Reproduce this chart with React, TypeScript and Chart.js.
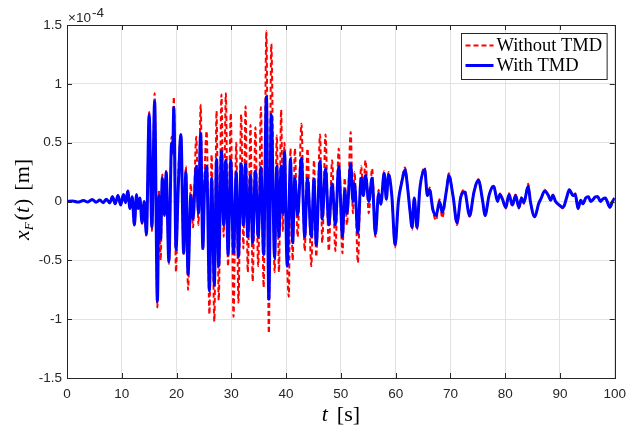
import React, { useEffect, useRef } from "react";
import { Chart, registerables } from "chart.js";

Chart.register(...registerables);

// time in seconds
const TIME = [
  0, 1.0, 2.0, 3.0, 3.8, 4.6, 5.3, 6.0, 6.6, 7.2, 7.8, 8.3, 8.8, 9.3, 9.8, 10.3, 10.7, 11.1, 11.5, 11.9,
  12.3, 12.7, 13.0, 13.3, 13.7, 14.1, 14.5, 15.0, 15.5, 16.0, 16.5, 16.8, 17.1, 17.4, 17.8, 18.1, 18.6,
  19.1, 19.3, 19.5, 19.9, 20.3, 20.8, 21.3, 21.7, 22.1, 22.6, 23.0, 23.6, 24.0, 24.4, 24.8, 25.1, 25.5,
  26.0, 26.4, 26.9, 27.3, 27.7, 28.2, 28.6, 29.0, 29.4, 29.9, 30.4, 30.9, 31.3, 31.8, 32.2, 32.6, 33.0,
  33.5, 33.9, 34.4, 34.9, 35.4, 35.9, 36.4, 36.85, 37.3, 37.9, 38.3, 38.7, 39.1, 39.4, 39.7, 40.2, 40.5,
  40.8, 41.2, 41.6, 42.1, 42.8, 43.4, 43.9, 44.6, 45.1, 45.5, 46.2, 46.6, 47.2, 47.8, 48.4, 49.0, 49.6,
  50.3, 50.7, 51.1, 51.8, 52.2, 52.5, 53.1, 53.7, 54.1, 54.5, 55.1, 55.7, 56.3, 56.9, 57.3, 57.9, 58.3,
  58.7, 59.3, 59.9, 60.5, 61.1, 61.7, 62.2, 62.6, 63.0, 63.4, 63.9, 64.4, 65.3, 65.8, 66.2, 66.8, 67.4,
  68.0, 68.5, 69.3, 69.7, 70.5, 71.2, 71.9, 72.6, 73.5, 74.3, 75.1, 75.9, 76.3, 77.1, 77.9, 78.6, 79.0,
  79.5, 80.1, 80.7, 81.3, 81.9, 82.5, 83.0, 83.4, 84.2, 84.6, 85.4, 86.1, 86.6, 87.2, 87.9, 88.3, 88.7,
  89.2, 89.6, 90.6, 91.2, 91.7, 92.4, 92.8, 93.3, 93.8, 94.2, 94.7, 95.2, 95.6, 96.1, 96.5, 96.9, 97.4,
  97.8, 98.3, 98.7, 99.1, 99.6, 100,
];

// displacement in units of 1e-4 m
const WITHOUT_TMD = [
  0, 0.005, -0.005, 0.008, -0.004, 0.018, -0.006, 0.012, -0.01, 0.02, -0.012, 0.042, -0.02, 0.05, -0.03, 0.06, -0.01, 0.09, -0.06, 0.04,
  -0.21, 0.06, -0.07, 0.03, -0.19, 0.0, -0.3, 0.76, -0.25, 0.92, -0.9, 0.1, -0.5, 0.23, -0.1, 0.27, -0.53,
  0.55, 0.4, 0.89, -0.6, 0.2, 0.56, -0.46, 0.3, -0.75, 0.15, -0.22, 0.55, -0.2, 0.82, -0.42, 0.2, 0.6,
  -0.96, 0.4, -1.02, 0.77, -0.84, 0.91, -0.3, 0.92, -0.55, 0.75, -0.98, 0.5, -0.86, 0.74, -0.4, 0.81, -0.6,
  0.65, -0.68, 0.63, -0.55, 0.8, -0.73, 1.45, -1.12, 1.34, -0.6, 0.56, -0.6, 0.78, -0.25, 0.5, -0.55, -0.81,
  0.45, -0.5, 0.45, -0.3, 0.66, -0.42, 0.45, -0.55, 0.35, -0.47, 0.57, -0.35, 0.57, -0.42, 0.35, -0.42, 0.45,
  -0.44, 0.2, -0.2, 0.59, -0.1, 0.25, -0.52, 0.3, 0.1, 0.35, -0.1, 0.28, -0.3, 0.1, -0.03, 0.26, 0.02,
  0.25, 0.06, -0.39, 0.0, 0.17, 0.29, 0.12, -0.08, -0.24, 0.03, -0.24, 0.1, 0.29, 0.05, 0.12, -0.08, -0.16,
  0.02, -0.14, 0.11, 0.24, 0.04, -0.2, 0.05, 0.1, -0.13, 0.08, 0.19, 0.0, -0.12, 0.06, 0.14, 0.0, 0.07,
  0.02, -0.06, 0.07, -0.04, 0.06, -0.06, 0.04, -0.02, 0.15, 0.0, -0.13, -0.02, 0.03, 0.1, 0.05, 0.01, 0.06,
  0.0, -0.02, -0.06, 0.03, 0.1, 0.05, 0.07, -0.06, 0.01, -0.02, 0.03, 0.04, 0.0, 0.02, 0.05, 0.04, 0.0,
  0.02, 0.03, -0.01, -0.05, 0.0, 0.03,
];

const WITH_TMD = [
  0, 0.005, -0.005, 0.008, -0.004, 0.018, -0.006, 0.012, -0.01, 0.02, -0.012, 0.04, -0.02, 0.05, -0.03, 0.06, -0.01, 0.09, -0.06, 0.04,
  -0.2, 0.06, -0.06, 0.03, -0.18, 0.0, -0.28, 0.74, -0.22, 0.85, -0.85, 0.05, -0.32, 0.2, -0.12, 0.25, -0.51,
  0.5, 0.42, 0.8, -0.41, 0.1, 0.57, -0.44, 0.25, -0.62, 0.05, -0.15, 0.3, -0.1, 0.58, -0.4, 0.1, 0.3,
  -0.76, 0.2, -0.71, 0.36, -0.55, 0.43, -0.2, 0.35, -0.45, 0.35, -0.44, 0.25, -0.47, 0.32, -0.2, 0.32, -0.3,
  0.22, -0.35, 0.26, -0.3, 0.29, -0.45, 0.89, -0.83, 0.74, -0.48, 0.3, -0.3, 0.3, -0.1, 0.42, -0.55, -0.1,
  0.36, -0.35, 0.2, -0.12, 0.37, -0.3, 0.2, -0.3, 0.19, -0.37, 0.34, -0.15, 0.28, -0.2, 0.15, -0.2, 0.3,
  -0.3, 0.1, -0.1, 0.32, 0.0, 0.15, -0.27, 0.2, 0.05, 0.22, 0.0, 0.2, -0.28, 0.07, -0.02, 0.24, 0.02,
  0.23, 0.05, -0.37, 0.0, 0.16, 0.27, 0.11, -0.07, -0.22, 0.03, -0.22, 0.1, 0.27, 0.05, 0.1, -0.07, -0.12,
  0.0, -0.09, 0.1, 0.22, 0.04, -0.18, 0.04, 0.08, -0.12, 0.08, 0.18, 0.0, -0.12, 0.06, 0.13, 0.0, 0.06,
  0.02, -0.05, 0.06, -0.03, 0.05, -0.05, 0.03, -0.01, 0.13, 0.0, -0.13, -0.02, 0.03, 0.09, 0.05, 0.01, 0.05,
  0.0, -0.02, -0.05, 0.03, 0.1, 0.05, 0.06, -0.06, 0.01, -0.02, 0.03, 0.04, 0.0, 0.02, 0.04, 0.04, 0.0,
  0.02, 0.03, -0.01, -0.05, 0.0, 0.03,
];

const SERIES_NAMES = ["Without TMD", "With TMD"];
const X_TICKS = [0, 10, 20, 30, 40, 50, 60, 70, 80, 90, 100];
const Y_TICKS = [-1.5, -1, -0.5, 0, 0.5, 1, 1.5];
const Y_TICK_LABELS = ["-1.5", "-1", "-0.5", "0", "0.5", "1", "1.5"];
const EXPONENT_BASE = "\u00d710";
const EXPONENT_POWER = "-4";

const AXIS_COLOR = "#262626";
const SANS = "'Liberation Sans', Arial, Helvetica, sans-serif";
const SERIF = "'Liberation Serif', 'DejaVu Serif', 'Times New Roman', serif";

type Piece = { text: string; font: string; dy: number; gap?: number };

function drawPieces(ctx: CanvasRenderingContext2D, pieces: Piece[], cx: number, baseline: number) {
  let total = 0;
  const widths = pieces.map((p) => {
    ctx.font = p.font;
    const w = ctx.measureText(p.text).width + (p.gap || 0);
    total += w;
    return w;
  });
  let x = cx - total / 2;
  pieces.forEach((p, i) => {
    ctx.font = p.font;
    ctx.fillText(p.text, x, baseline + p.dy);
    x += widths[i];
  });
}

const decorPlugin = {
  id: "matlabDecor",
  afterDraw(chart: any) {
    const ctx: CanvasRenderingContext2D = chart.ctx;
    const { left, right, top, bottom } = chart.chartArea;
    const xs = chart.scales.x;
    const ys = chart.scales.y;
    ctx.save();
    // frame
    ctx.strokeStyle = AXIS_COLOR;
    ctx.lineWidth = 1;
    ctx.setLineDash([]);
    ctx.strokeRect(Math.round(left) + 0.5, Math.round(top) + 0.5, Math.round(right - left), Math.round(bottom - top));
    // inward ticks
    const tl = 5;
    ctx.beginPath();
    X_TICKS.forEach((v) => {
      const px = Math.round(xs.getPixelForValue(v)) + 0.5;
      ctx.moveTo(px, bottom);
      ctx.lineTo(px, bottom - tl);
      ctx.moveTo(px, top);
      ctx.lineTo(px, top + tl);
    });
    Y_TICKS.forEach((v) => {
      const py = Math.round(ys.getPixelForValue(v)) + 0.5;
      ctx.moveTo(left, py);
      ctx.lineTo(left + tl, py);
      ctx.moveTo(right, py);
      ctx.lineTo(right - tl, py);
    });
    ctx.stroke();

    // exponent label
    ctx.fillStyle = AXIS_COLOR;
    ctx.textBaseline = "alphabetic";
    ctx.textAlign = "left";
    ctx.font = `13.5px ${SANS}`;
    ctx.fillText(EXPONENT_BASE, left + 1, top - 3);
    const bw = ctx.measureText(EXPONENT_BASE).width;
    ctx.font = `13.5px ${SANS}`;
    ctx.fillText(EXPONENT_POWER, left + 2 + bw, top - 8);

    // x axis title
    ctx.fillStyle = "#000";
    drawPieces(
      ctx,
      [
        { text: "t", font: `italic 22px ${SERIF}`, dy: 0, gap: 9 },
        { text: "[s]", font: `22px ${SERIF}`, dy: 0 },
      ],
      (left + right) / 2,
      421
    );

    // y axis title
    ctx.save();
    ctx.translate(29, (top + bottom) / 2 - 2);
    ctx.rotate(-Math.PI / 2);
    drawPieces(
      ctx,
      [
        { text: "x", font: `italic 22px ${SERIF}`, dy: 0 },
        { text: "F", font: `italic 13px ${SERIF}`, dy: 4, gap: 2 },
        { text: "(", font: `22px ${SERIF}`, dy: 0 },
        { text: "t", font: `italic 22px ${SERIF}`, dy: 0, gap: 1 },
        { text: ")", font: `22px ${SERIF}`, dy: 0, gap: 8 },
        { text: "[m]", font: `22px ${SERIF}`, dy: 0 },
      ],
      0,
      0
    );
    ctx.restore();

    // legend
    const ds = chart.data.datasets;
    ctx.font = `18.5px ${SERIF}`;
    const textW = Math.max(...SERIES_NAMES.map((n) => ctx.measureText(n).width));
    const lineLen = 28;
    const boxW = 4 + lineLen + 3 + textW + 5;
    const boxH = 46;
    const bx = Math.round(right - 8 - boxW) + 0.5;
    const by = Math.round(top + 8) + 0.5;
    ctx.fillStyle = "#ffffff";
    ctx.fillRect(bx, by, boxW, boxH);
    ctx.strokeStyle = AXIS_COLOR;
    ctx.lineWidth = 1;
    ctx.strokeRect(bx, by, boxW, boxH);
    SERIES_NAMES.forEach((name, i) => {
      const rowY = by + 12 + i * 20;
      const d = ds[i];
      ctx.strokeStyle = d.borderColor;
      ctx.lineWidth = d.borderWidth;
      ctx.setLineDash(d.borderDash || []);
      ctx.beginPath();
      ctx.moveTo(bx + 4, rowY);
      ctx.lineTo(bx + 4 + lineLen, rowY);
      ctx.stroke();
      ctx.setLineDash([]);
      ctx.fillStyle = "#000";
      ctx.font = `18.5px ${SERIF}`;
      ctx.textBaseline = "middle";
      ctx.fillText(name, bx + 4 + lineLen + 3, rowY + 1);
    });
    ctx.restore();
  },
};

export default function App() {
  const canvasRef = useRef<HTMLCanvasElement | null>(null);

  useEffect(() => {
    document.body.style.margin = "0";
    const canvas = canvasRef.current;
    if (!canvas) return;
    const chart = new Chart(canvas, {
      type: "line",
      data: {
        datasets: [
          {
            label: SERIES_NAMES[0],
            data: TIME.map((t, i) => ({ x: t, y: WITHOUT_TMD[i] })),
            borderColor: "#ff0000",
            borderWidth: 2,
            borderDash: [5, 3],
            pointRadius: 0,
            cubicInterpolationMode: "monotone",
            fill: false,
            order: 1,
          },
          {
            label: SERIES_NAMES[1],
            data: TIME.map((t, i) => ({ x: t, y: WITH_TMD[i] })),
            borderColor: "#0000ff",
            borderWidth: 3,
            pointRadius: 0,
            cubicInterpolationMode: "monotone",
            fill: false,
            order: 0,
          },
        ] as any,
      },
      options: {
        animation: false,
        responsive: false,
        devicePixelRatio: 1,
        layout: { padding: { left: 0, top: 25, right: 14, bottom: 0 } },
        plugins: { legend: { display: false }, tooltip: { enabled: false } },
        scales: {
          x: {
            type: "linear",
            min: 0,
            max: 100,
            afterBuildTicks: (s: any) => {
              s.ticks = X_TICKS.map((v) => ({ value: v }));
            },
            afterFit: (s: any) => {
              s.height = 52;
            },
            grid: { color: "#e2e2e2", lineWidth: 1, drawTicks: false },
            border: { display: false },
            ticks: {
              autoSkip: false,
              maxRotation: 0,
              padding: 8,
              color: AXIS_COLOR,
              font: { family: SANS, size: 13.5 },
              callback: (v: any) => String(v),
            },
          },
          y: {
            type: "linear",
            min: -1.5,
            max: 1.5,
            afterBuildTicks: (s: any) => {
              s.ticks = Y_TICKS.map((v) => ({ value: v }));
            },
            afterFit: (s: any) => {
              s.width = 67;
            },
            grid: { color: "#e2e2e2", lineWidth: 1, drawTicks: false },
            border: { display: false },
            ticks: {
              autoSkip: false,
              padding: 5,
              color: AXIS_COLOR,
              font: { family: SANS, size: 13.5 },
              callback: (v: any) => {
                const idx = Y_TICKS.indexOf(Number(v));
                return idx >= 0 ? Y_TICK_LABELS[idx] : "";
              },
            },
          },
        },
      } as any,
      plugins: [decorPlugin],
    });
    return () => chart.destroy();
  }, []);

  return (
    <div style={{ width: 634, height: 430, background: "#fff" }}>
      <canvas ref={canvasRef} width={634} height={430} />
    </div>
  );
}
